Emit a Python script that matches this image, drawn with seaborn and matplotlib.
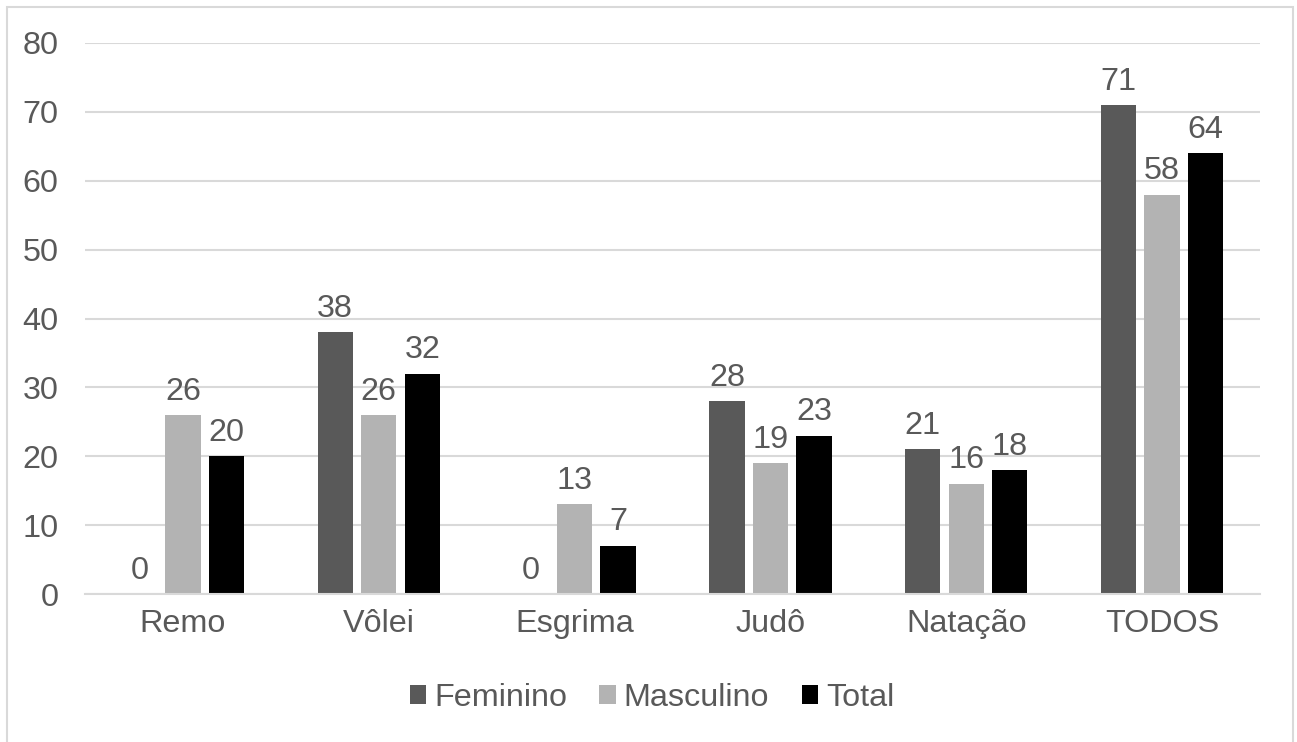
import pandas as pd
import matplotlib.pyplot as plt
import seaborn as sns
from matplotlib.patches import Rectangle

# Values
modalidades = ['Remo', 'Vôlei', 'Esgrima', 'Judô', 'Natação', 'TODOS']
feminino = [0, 38, 0, 28, 21, 71]
masculino = [26, 26, 13, 19, 16, 58]
total = [20, 32, 7, 23, 18, 64]
series = ['Feminino', 'Masculino', 'Total']
cores = ['#595959', '#b3b3b3', '#000000']

# Long format table for seaborn
df = pd.DataFrame({
    'Modalidade': modalidades * 3,
    'Valor': feminino + masculino + total,
    'Sexo': [s for s in series for _ in modalidades],
})

sns.set_style('white')
plt.rcParams['font.family'] = ['Liberation Sans', 'DejaVu Sans']
text_color = '#595959'
fs = 23.3

fig = plt.figure(figsize=(12.97, 7.42), dpi=100)
ax = fig.add_axes([85 / 1297, 1 - 594 / 742, (1260 - 85) / 1297, (594 - 43) / 742])

sns.barplot(data=df, x='Modalidade', y='Valor', hue='Sexo', order=modalidades,
            hue_order=series, palette=cores, width=0.667, gap=0.19,
            saturation=1, linewidth=0, ax=ax, legend=True)

# Data labels on top of each bar
for cont in ax.containers:
    ax.bar_label(cont, fmt='%d', padding=6, fontsize=fs, color=text_color)

ax.set_ylim(0, 80)
ax.set_yticks(range(0, 81, 10))
ax.set_xlim(-0.5, len(modalidades) - 0.5)
ax.yaxis.grid(True, color='#d9d9d9', linewidth=1.5)
ax.set_axisbelow(True)
for side in ['top', 'right', 'left']:
    ax.spines[side].set_visible(False)
ax.spines['bottom'].set_color('#d9d9d9')
ax.spines['bottom'].set_linewidth(1.5)
ax.tick_params(axis='both', length=0, labelsize=fs, colors=text_color)
ax.tick_params(axis='y', pad=19)
ax.tick_params(axis='x', pad=11)
ax.set_xlabel('')
ax.set_ylabel('')

# Legend below the plot
handles, labels = ax.get_legend_handles_labels()
ax.get_legend().remove()
fig.legend(handles, labels, loc='center', bbox_to_anchor=(652 / 1297, 1 - 698 / 742),
           ncol=3, frameon=False, fontsize=fs, labelcolor=text_color,
           handlelength=0.5, handleheight=0.5, handletextpad=0.25, columnspacing=1.0)

# Thin light border around the chart area
fig.patches.append(Rectangle((7 / 1297, -0.02), (1293 - 7) / 1297, 1 - 7 / 742 + 0.02,
                             transform=fig.transFigure, fill=False,
                             edgecolor='#d9d9d9', linewidth=1.5))

fig.savefig('out.png', dpi=100)
